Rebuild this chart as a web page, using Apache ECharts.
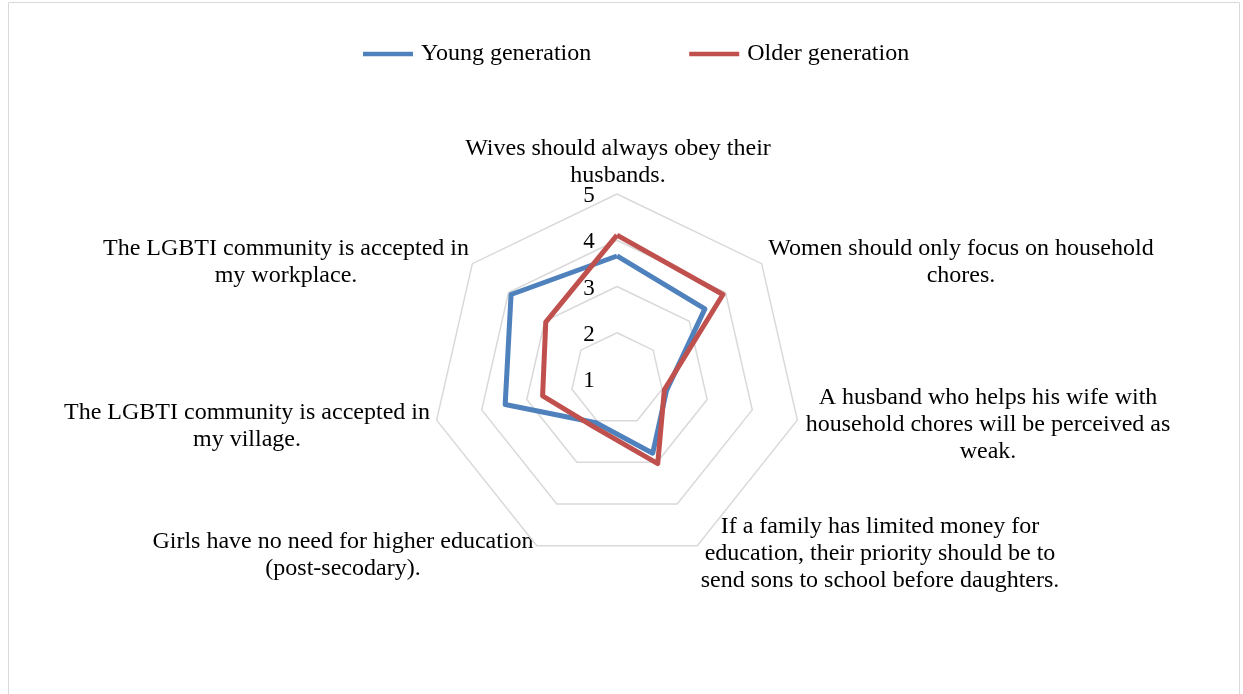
<!DOCTYPE html>
<html>
<head>
<meta charset="utf-8">
<script src="https://cdn.jsdelivr.net/npm/echarts@6/dist/echarts.min.js"></script>
<style>
html,body{margin:0;padding:0;background:#fff;}
#chart{width:1243px;height:694px;}
</style>
</head>
<body>
<div id="chart"></div>
<script>
// Categories in the reference's clockwise order, starting at the top
const categories = [
  'Wives should always obey their\nhusbands.',
  'Women should only focus on household\nchores.',
  'A husband who helps his wife with\nhousehold chores will be perceived as\nweak.',
  'If a family has limited money for\neducation, their priority should be to\nsend sons to school before daughters.',
  'Girls have no need for higher education\n(post-secodary).',
  'The LGBTI community is accepted in\nmy village.',
  'The LGBTI community is accepted in\nmy workplace.'
];
const youngValues = [3.66, 3.43, 2.10, 2.78, 2.05, 3.48, 3.93];
const olderValues = [4.11, 3.93, 2.05, 3.03, 2.15, 2.65, 2.97];
const tickLabels = ['1', '2', '3', '4', '5'];
const seriesNames = ['Young generation', 'Older generation'];

const FONT = "'Liberation Serif', 'Times New Roman', serif";
const CX = 617, CY = 379, R = 185;
const AXIS_MIN = 1, AXIS_MAX = 5;

// label block centres (layout only)
const labelPos = [
  [618, 162], [961, 262], [988, 425], [880, 554], [343, 555], [247, 426], [286, 262]
];

// ECharts places indicators counter-clockwise; reorder to get clockwise layout
const order = [0, 6, 5, 4, 3, 2, 1];
const indicators = order.map(i => ({ name: categories[i], min: AXIS_MIN, max: AXIS_MAX }));
const reorder = arr => order.map(i => arr[i]);

const graphics = [];
graphics.push({
  type: 'rect', shape: { x: 8.5, y: 2.5, width: 1231, height: 720 },
  style: { fill: 'none', stroke: '#d9d9d9', lineWidth: 1 }, silent: true, z: -1
});
categories.forEach((c, i) => {
  graphics.push({
    type: 'text', x: labelPos[i][0], y: labelPos[i][1],
    style: { text: c, fill: '#000', font: '24px ' + FONT, lineHeight: 27,
      align: 'center', verticalAlign: 'middle', textAlign: 'center', textVerticalAlign: 'middle' }
  });
});
tickLabels.forEach((t) => {
  const v = Number(t);
  graphics.push({
    type: 'text', x: 589, y: CY - (v - AXIS_MIN) / (AXIS_MAX - AXIS_MIN) * R + 2,
    style: { text: t, fill: '#000', font: '23px ' + FONT,
      align: 'center', verticalAlign: 'middle', textAlign: 'center', textVerticalAlign: 'middle' }
  });
});

const chart = echarts.init(document.getElementById('chart'));
chart.setOption({
  animation: false,
  backgroundColor: '#fff',
  color: ['#4f81bd', '#c0504d'],
  legend: {
    top: 42, left: 363, padding: 0,
    itemWidth: 50, itemHeight: 4.5, itemGap: 98,
    icon: 'rect',
    data: seriesNames,
    textStyle: { fontFamily: FONT, fontSize: 24, color: '#000', padding: [0, 0, 0, 3] }
  },
  radar: {
    center: [CX, CY],
    radius: R,
    startAngle: 90,
    shape: 'polygon',
    splitNumber: 4,
    indicator: indicators,
    axisName: { show: false },
    axisLine: { show: false },
    axisTick: { show: false },
    axisLabel: { show: false },
    splitArea: { show: false },
    splitLine: { lineStyle: { color: '#d9d9d9', width: 1.5 } }
  },
  series: [{
    type: 'radar',
    symbol: 'none',
    lineStyle: { width: 5 },
    data: [
      { name: seriesNames[0], value: reorder(youngValues), lineStyle: { color: '#4f81bd', width: 5 }, itemStyle: { color: '#4f81bd' } },
      { name: seriesNames[1], value: reorder(olderValues), lineStyle: { color: '#c0504d', width: 5 }, itemStyle: { color: '#c0504d' } }
    ]
  }],
  graphic: graphics
});
</script>
</body>
</html>
